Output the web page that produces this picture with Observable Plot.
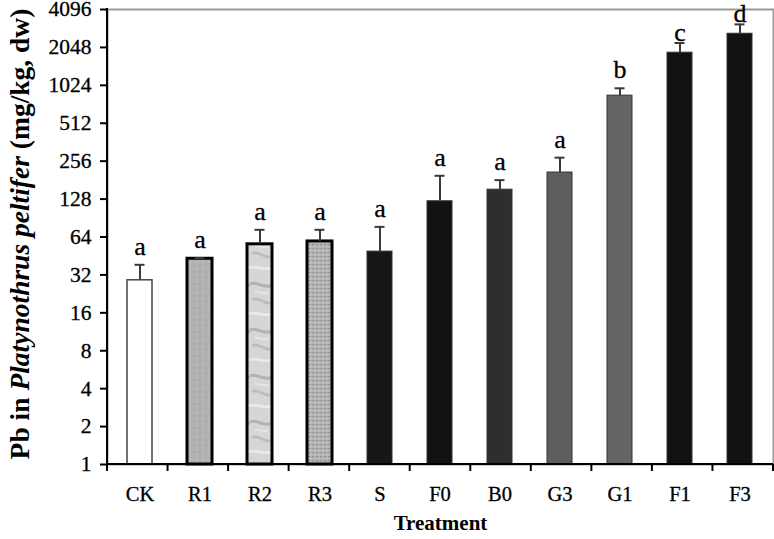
<!DOCTYPE html>
<html>
<head>
<meta charset="utf-8">
<script src="https://cdn.jsdelivr.net/npm/d3@7"></script>
<script src="https://cdn.jsdelivr.net/npm/@observablehq/plot@0.6"></script>
<style>
  html, body { margin: 0; padding: 0; background: #fff; }
  #chart svg { display: block; }
</style>
</head>
<body>
<svg width="0" height="0" style="position:absolute">
  <defs>
    <pattern id="texR1" width="6" height="6" patternUnits="userSpaceOnUse">
      <rect width="6" height="6" fill="#b2b2b2"/>
      <rect x="1" y="1" width="1.5" height="1.5" fill="#a2a2a2"/>
      <rect x="4" y="3" width="1.5" height="1.5" fill="#c0c0c0"/>
      <rect x="2" y="4.5" width="1" height="1" fill="#a8a8a8"/>
    </pattern>
    <pattern id="texR2" width="25" height="46" patternUnits="userSpaceOnUse">
      <rect width="25" height="46" fill="#d6d6d6"/>
      <path d="M0 8 C7 4, 11 14, 25 9" stroke="#b2b2b2" stroke-width="3" fill="none"/>
      <path d="M2 24 C9 19, 15 31, 23 26" stroke="#bcbcbc" stroke-width="2.5" fill="none"/>
      <path d="M0 38 C6 35, 16 42, 25 37" stroke="#ebebeb" stroke-width="2.5" fill="none"/>
      <path d="M5 16 C9 15, 12 18, 18 17" stroke="#e6e6e6" stroke-width="2" fill="none"/>
    </pattern>
    <pattern id="texR3" width="4" height="4" patternUnits="userSpaceOnUse">
      <rect width="4" height="4" fill="#b4b4b4"/>
      <rect x="0" y="0" width="2.5" height="1.2" fill="#949494"/>
      <rect x="2" y="2" width="1.2" height="1.2" fill="#cccccc"/>
    </pattern>
  </defs>
</svg>
<div id="chart"></div>
<script>
// Data
const categories = ["CK", "R1", "R2", "R3", "S", "F0", "B0", "G3", "G1", "F1", "F3"];
const means      = [29, 43, 56, 59, 49, 123, 152, 208, 848, 1860, 2630];
const errTops    = [38.5, 43.5, 73, 73, 77, 196, 181, 273, 970, 2220, 3120];
const letters    = ["a", "a", "a", "a", "a", "a", "a", "a", "b", "c", "d"];
const yTicks     = [1, 2, 4, 8, 16, 32, 64, 128, 256, 512, 1024, 2048, 4096];

// Styles (kept separate from the data)
const fillOf = {CK: "#ffffff", R1: "url(#texR1)", R2: "url(#texR2)", R3: "url(#texR3)", S: "#161616",
  F0: "#121212", B0: "#2e2e2e", G3: "#5e5e5e", G1: "#656565", F1: "#111111", F3: "#111111"};
const strokeOf = {CK: "#444", R1: "#000", R2: "#000", R3: "#000"};
const strokeWOf = {CK: 1.5, R1: 3, R2: 3, R3: 3};

const data = categories.map((c, i) => ({cat: c, mean: means[i], err: errTops[i], letter: letters[i]}));

const serif = "'Liberation Serif', 'Times New Roman', serif";

const chart = Plot.plot({
  width: 774,
  height: 539,
  marginLeft: 107,
  marginRight: 1,
  marginTop: 9,
  marginBottom: 75,
  style: {fontFamily: serif, fontSize: "20px", color: "#000", background: "#fff"},
  x: {domain: categories, paddingInner: 0.58, paddingOuter: 0.29, label: null},
  y: {type: "log", base: 2, domain: [1, 4096], label: null},
  color: {type: "identity"},
  marks: [
    Plot.frame({stroke: "#9a9a9a", strokeWidth: 2}),
    Plot.barY(data, {
      x: "cat", y1: () => 1, y2: "mean",
      fill: d => fillOf[d.cat], stroke: d => strokeOf[d.cat] || "#333",
      strokeWidth: d => strokeWOf[d.cat] || 1
    }),
    Plot.ruleX(data, {x: "cat", y1: "mean", y2: "err", stroke: "#3a3a3a", strokeWidth: 2}),
    Plot.tickY(data, {x: "cat", y: "err", stroke: "#3a3a3a", strokeWidth: 2, insetLeft: 7.5, insetRight: 7.5}),
    Plot.text(data.filter(d => d.err < 2000), {x: "cat", y: "err", text: "letter", lineAnchor: "bottom", dy: -10,
      fontSize: 26, fill: "#000", stroke: "#000", strokeWidth: 0.3}),
    Plot.text(data.filter(d => d.err >= 2000), {x: "cat", y: "err", text: "letter", lineAnchor: "bottom", dy: -2,
      fontSize: 26, fill: "#000", stroke: "#000", strokeWidth: 0.3}),
    Plot.axisY({ticks: yTicks, tickFormat: d => String(d), tickSize: 7, tickPadding: 9,
      strokeWidth: 2, fontSize: 22}),
    Plot.axisX({tickSize: 0, tickPadding: 22, fontSize: 20.5}),
    Plot.text(["Treatment"], {frameAnchor: "bottom", dy: 65, fontWeight: "bold", fontSize: 21, fill: "#000"})
  ]
});

document.getElementById("chart").appendChild(chart);

// Axis lines and band-boundary tick marks, positioned from Plot's own x and y scales
const svg = d3.select(chart);
const xs = chart.scale("x");
const ys = chart.scale("y");
const [x0, x1] = xs.range;
const step = (x1 - x0) / categories.length;
const yBottom = ys.apply(1), yTop = ys.apply(4096);
const g = svg.append("g").attr("stroke", "#000").attr("stroke-width", 2);
g.append("line").attr("x1", x0).attr("x2", x0).attr("y1", yTop - 1).attr("y2", yBottom + 1);
g.append("line").attr("x1", x0 - 1).attr("x2", x1).attr("y1", yBottom).attr("y2", yBottom);
for (let i = 0; i <= categories.length; i++) {
  const bx = x0 + i * step;
  g.append("line").attr("x1", bx).attr("x2", bx).attr("y1", yBottom).attr("y2", yBottom + 7);
}

// slightly heavier and larger tick labels, like the scanned original
svg.selectAll('g[aria-label="y-axis tick label"] text')
  .style("font-size", "21.5px").attr("stroke", "#000").attr("stroke-width", 0.3);
svg.selectAll('g[aria-label="x-axis tick label"] text')
  .style("font-size", "20.5px").attr("stroke", "#000").attr("stroke-width", 0.3);

// Y axis title with mixed styles
const title = svg.append("text")
  .attr("transform", `translate(29, 234) rotate(-90)`)
  .attr("text-anchor", "middle")
  .attr("font-family", serif)
  .attr("font-size", 27.5)
  .attr("font-weight", "bold")
  .attr("fill", "#000");
title.append("tspan").text("Pb in ");
title.append("tspan").attr("font-style", "italic").text("Platynothrus peltifer");
title.append("tspan").text(" (mg/kg, dw)");
</script>
</body>
</html>
